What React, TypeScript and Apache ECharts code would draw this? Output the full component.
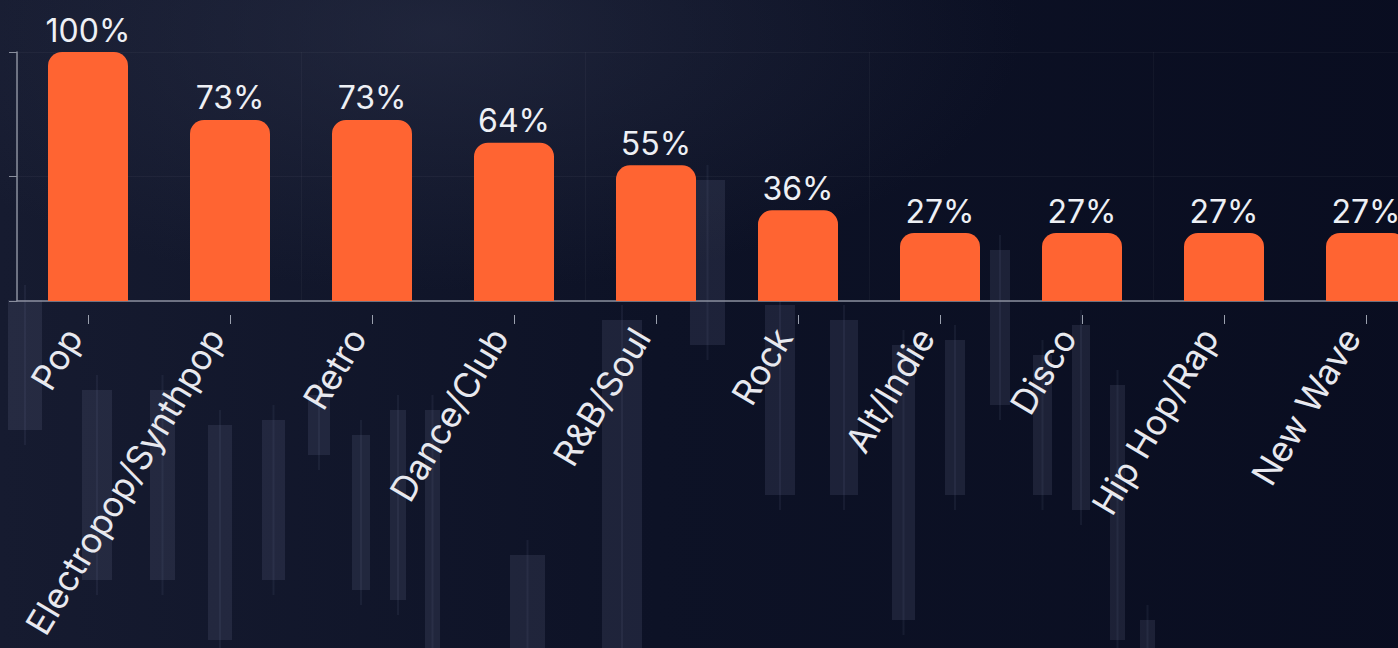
import React, { useEffect, useRef } from "react";
import * as echarts from "echarts";

const categories = [
  "Pop",
  "Electropop/Synthpop",
  "Retro",
  "Dance/Club",
  "R&B/Soul",
  "Rock",
  "Alt/Indie",
  "Disco",
  "Hip Hop/Rap",
  "New Wave",
];
const values = [100, 72.7, 72.7, 63.6, 54.5, 36.4, 27.3, 27.3, 27.3, 27.3];
const yTicks = [0, 50, 100];

// decorative faint candlestick backdrop: [x, top, bottom, width]
const backdrop: number[][] = [
  [8, 300, 430, 34],
  [82, 390, 580, 30],
  [150, 390, 580, 25],
  [208, 425, 640, 24],
  [262, 420, 580, 23],
  [308, 395, 455, 22],
  [352, 435, 590, 18],
  [390, 410, 600, 16],
  [425, 410, 648, 15],
  [510, 555, 648, 35],
  [602, 320, 648, 40],
  [690, 180, 345, 35],
  [765, 305, 495, 30],
  [830, 320, 495, 28],
  [892, 345, 620, 23],
  [945, 340, 495, 20],
  [990, 250, 405, 20],
  [1033, 355, 495, 19],
  [1072, 325, 510, 18],
  [1110, 385, 640, 15],
  [1140, 620, 648, 15],
];

const FONT = "Inter, 'Noto Sans', sans-serif";
const CW = 1460;
const CH = 648;

export default function App() {
  const ref = useRef<HTMLDivElement>(null);
  useEffect(() => {
    if (!ref.current) return;
    const chart = echarts.init(ref.current, undefined, { renderer: "svg" });
    const bgElems: any[] = [
      {
        type: "rect",
        z: -100,
        silent: true,
        shape: { x: 0, y: 0, width: CW, height: CH },
        style: {
          fill: new echarts.graphic.LinearGradient(0, 0, 1, 0, [
            { offset: 0, color: "#161b30" },
            { offset: 0.45, color: "#0d1226" },
            { offset: 1, color: "#090d20" },
          ]),
        },
      },
      {
        type: "rect",
        z: -99,
        silent: true,
        shape: { x: 0, y: 0, width: CW, height: CH },
        style: {
          fill: new echarts.graphic.RadialGradient(0.3, 0.05, 0.4, [
            { offset: 0, color: "rgba(50,56,80,0.45)" },
            { offset: 1, color: "rgba(50,56,80,0)" },
          ]),
        },
      },
    ];
    backdrop.forEach(([x, t, b, w]) => {
      bgElems.push({
        type: "rect",
        z: -90,
        silent: true,
        shape: { x, y: t, width: w, height: b - t },
        style: { fill: "rgba(110,118,150,0.18)" },
      });
      bgElems.push({
        type: "rect",
        z: -90,
        silent: true,
        shape: { x: x + w / 2 - 1, y: t - 15, width: 2, height: b - t + 30 },
        style: { fill: "rgba(110,118,150,0.12)" },
      });
    });

    chart.setOption({
      animation: false,
      backgroundColor: "#0b1022",
      graphic: { elements: bgElems },
      grid: { left: 17, top: 52, right: CW - 1437, bottom: CH - 301, containLabel: false },
      xAxis: [
        {
          type: "category",
          data: categories,
          position: "bottom",
          axisLine: { show: true, lineStyle: { color: "#8a8f9e", width: 1.5 } },
          axisTick: { show: false },
          axisLabel: { show: false },
          splitLine: { show: true, lineStyle: { color: "rgba(255,255,255,0.035)", width: 1 } },
        },
        {
          type: "category",
          data: categories,
          position: "bottom",
          offset: 14,
          axisLine: { show: false },
          axisTick: { show: true, alignWithLabel: true, length: 9, lineStyle: { color: "#9aa0ae", width: 1 } },
          axisLabel: {
            rotate: 59,
            margin: 25,
            verticalAlign: "bottom",
            color: "#e8e9ef",
            fontFamily: FONT,
            fontSize: 35,
            interval: 0,
          },
          splitLine: { show: false },
        },
      ],
      yAxis: {
        type: "value",
        min: 0,
        max: 100,
        interval: 50,
        axisLine: { show: true, lineStyle: { color: "#8a8f9e", width: 1.5 } },
        axisTick: { show: true, length: 8, lineStyle: { color: "#8a8f9e" } },
        axisLabel: { show: false },
        splitLine: { show: true, lineStyle: { color: "rgba(255,255,255,0.04)", width: 1 } },
        customValues: yTicks,
      },
      series: [
        {
          type: "bar",
          data: values,
          xAxisIndex: 0,
          barWidth: 80,
          itemStyle: { color: "#ff6432", borderRadius: [14, 14, 0, 0] },
          label: {
            show: true,
            position: "top",
            distance: 6,
            color: "#eef0f5",
            fontFamily: FONT,
            fontSize: 32,
            formatter: (p: any) => Math.round(p.value) + "%",
          },
        },
      ],
    });
    return () => chart.dispose();
  }, []);
  return (
    <div style={{ position: "absolute", left: 0, top: 0, width: 1398, height: CH, overflow: "hidden" }}>
      <div ref={ref} style={{ width: CW, height: CH }} />
    </div>
  );
}
